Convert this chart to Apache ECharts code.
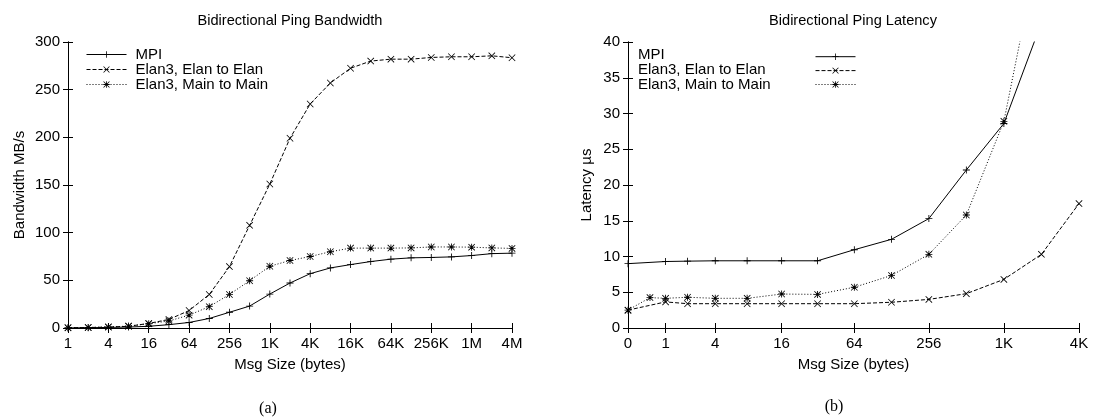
<!DOCTYPE html>
<html>
<head>
<meta charset="utf-8">
<script src="https://cdn.jsdelivr.net/npm/echarts@6/dist/echarts.min.js"></script>
<style>
  html, body { margin: 0; padding: 0; background: #fff; }
  #chart { width: 1093px; height: 419px; }
</style>
</head>
<body>
<div id="chart"></div>
<script>
// bandwidth chart (a): msg size in bytes vs MB/s
var bwSizes = [1, 2, 4, 8, 16, 32, 64, 128, 256, 512, 1024, 2048, 4096, 8192, 16384,
  32768, 65536, 131072, 262144, 524288, 1048576, 2097152, 4194304];
var bwMpi  = [0.1, 0.3, 0.6, 1.0, 1.8, 3.5, 5.8, 10.0, 16.5, 23.0, 35.6, 47.2, 57.0, 63.0, 66.5,
  69.7, 72.2, 73.6, 74.0, 74.6, 76.0, 78.0, 78.5];
var bwElan = [0.2, 0.5, 1.0, 1.8, 4.8, 9.0, 18.3, 35.2, 64.4, 107.7, 151, 199, 235, 257, 272.5,
  280, 282, 282, 283.8, 284.5, 284.5, 285.5, 283.5];
var bwMain = [0.2, 0.5, 1.0, 2.0, 4.5, 7.4, 13.5, 22.4, 35.2, 49.6, 64.8, 70.8, 75.0, 80.0, 83.8,
  83.8, 83.8, 84.0, 85.0, 85.0, 84.8, 84.0, 83.5];
var bwTickSizes  = [1, 4, 16, 64, 256, 1024, 4096, 16384, 65536, 262144, 1048576, 4194304];
var bwTickLabels = ['1', '4', '16', '64', '256', '1K', '4K', '16K', '64K', '256K', '1M', '4M'];

// latency chart (b): msg size in bytes vs microseconds
var latSizes = [0, 1, 2, 4, 8, 16, 32, 64, 128, 256, 512, 1024, 2048, 4096];
var latMpi   = [9.0, 9.3, 9.35, 9.4, 9.4, 9.4, 9.4, 10.95, 12.4, 15.3, 22.1, 28.6, 42.7];
var latElan  = [2.5, 3.65, 3.4, 3.4, 3.4, 3.4, 3.4, 3.4, 3.6, 4.0, 4.8, 6.8, 10.3, 17.4];
var latMainSizes = [0, 0.5, 1, 2, 4, 8, 16, 32, 64, 128, 256, 512, 1024, 2048];
var latMain  = [2.5, 4.25, 4.15, 4.3, 4.15, 4.15, 4.75, 4.7, 5.7, 7.35, 10.3, 15.8, 28.9, 55];
var latTickSizes  = [0, 1, 4, 16, 64, 256, 1024, 4096];
var latTickLabels = ['0', '1', '4', '16', '64', '256', '1K', '4K'];

var names = ['MPI', 'Elan3, Elan to Elan', 'Elan3, Main to Main'];

var FONT = 'Liberation Sans';
// gnuplot style point types
var SYM_PLUS  = 'path://M0,4.4H10V5.6H0Z M4.4,0H5.6V10H4.4Z';
var SYM_CROSS = 'path://M0.8,0L5,4.2L9.2,0L10,0.8L5.8,5L10,9.2L9.2,10L5,5.8L0.8,10L0,9.2L4.2,5L0,0.8Z';
var SYM_STAR  = 'path://M0.8,0L5,4.2L9.2,0L10,0.8L5.8,5L10,9.2L9.2,10L5,5.8L0.8,10L0,9.2L4.2,5L0,0.8Z M0,4.4H10V5.6H0Z M4.4,0H5.6V10H4.4Z';

var bwX  = function (s) { return Math.log2(s); };
var latX = function (s) { return Math.log2(s + 1); };

function tickFormatter(sizes, labels, toX) {
  return function (v) {
    for (var i = 0; i < sizes.length; i++) {
      if (Math.abs(toX(sizes[i]) - v) < 1e-6) return labels[i];
    }
    return '';
  };
}

function xAxes(grid, sizes, labels, toX, name) {
  var ticks = sizes.map(toX);
  var max = toX(sizes[sizes.length - 1]);
  var base = {
    type: 'value', gridIndex: grid, min: 0, max: max,
    axisLine: { lineStyle: { color: '#000', width: 1 } },
    axisTick: { inside: true, length: 5, customValues: ticks, lineStyle: { color: '#000' } },
    splitLine: { show: false }
  };
  var bottom = Object.assign({}, base, {
    position: 'bottom',
    name: name, nameLocation: 'middle', nameGap: 29,
    nameTextStyle: { fontFamily: FONT, fontSize: 15, color: '#000' },
    axisLabel: { customValues: ticks, margin: 8, fontFamily: FONT, fontSize: 15, color: '#000',
      formatter: tickFormatter(sizes, labels, toX) }
  });
  var top = Object.assign({}, base, { position: 'top', axisLabel: { show: false } });
  return [bottom, top];
}

function yAxes(grid, max, interval, name, gap) {
  var base = {
    type: 'value', gridIndex: grid, min: 0, max: max, interval: interval,
    axisLine: { show: true, lineStyle: { color: '#000', width: 1 } },
    axisTick: { show: true, inside: true, length: 5, lineStyle: { color: '#000' } },
    splitLine: { show: false }
  };
  var left = Object.assign({}, base, {
    position: 'left',
    name: name, nameLocation: 'middle', nameGap: gap,
    nameTextStyle: { fontFamily: FONT, fontSize: 15, color: '#000' },
    axisLabel: { margin: 8, fontFamily: FONT, fontSize: 15, color: '#000' }
  });
  var right = Object.assign({}, base, { position: 'right', axisLabel: { show: false } });
  return [left, right];
}

function line(name, sizes, values, toX, axis, dash, symbol) {
  return {
    type: 'line', name: name, xAxisIndex: axis, yAxisIndex: axis,
    data: values.map(function (v, i) { return [toX(sizes[i]), v]; }),
    symbol: symbol, symbolSize: 7, showAllSymbol: true, clip: true,
    lineStyle: { color: '#000', width: 1, type: dash },
    itemStyle: { color: '#000' },
    silent: true
  };
}

var DASH = [4, 2];
var DOT = [1, 2];
var legendText = { fontFamily: FONT, fontSize: 15, color: '#000', lineHeight: 14 };
var legendLine = { width: 1 };

var option = {
  animation: false,
  backgroundColor: '#fff',
  title: [
    { text: 'Bidirectional Ping Bandwidth', left: 290, top: 13, textAlign: 'center', padding: 0,
      textStyle: { fontFamily: FONT, fontSize: 14.6, fontWeight: 'normal', color: '#000' } },
    { text: 'Bidirectional Ping Latency', left: 853, top: 13, textAlign: 'center', padding: 0,
      textStyle: { fontFamily: FONT, fontSize: 14.6, fontWeight: 'normal', color: '#000' } },
    { text: '(a)', left: 268, top: 401, textAlign: 'center', padding: 0,
      textStyle: { fontFamily: 'Liberation Serif', fontSize: 16, fontWeight: 'normal', color: '#000' } },
    { text: '(b)', left: 834, top: 399, textAlign: 'center', padding: 0,
      textStyle: { fontFamily: 'Liberation Serif', fontSize: 16, fontWeight: 'normal', color: '#000' } }
  ],
  legend: [
    { data: names, orient: 'vertical', left: 86, top: 47, itemWidth: 40, itemHeight: 8, itemGap: 0,
      selectedMode: false, padding: 0, lineStyle: legendLine,
      textStyle: Object.assign({ padding: [0, 0, 0, 4] }, legendText) },
    // right chart key: text on the left, samples in a column on the right
    { data: names, orient: 'vertical', left: 633, top: 47, icon: 'none', itemWidth: 0, itemHeight: 8, itemGap: 0,
      selectedMode: false, padding: 0, textStyle: legendText },
    { data: names, orient: 'vertical', left: 815, top: 53.5, itemWidth: 40, itemHeight: 8, itemGap: 7.5,
      selectedMode: false, padding: 0, lineStyle: legendLine, formatter: function () { return ''; },
      textStyle: { fontSize: 1, lineHeight: 1 } }
  ],
  grid: [
    { left: 68, right: 581, top: 42, bottom: 91 },
    { left: 628, right: 14, top: 42, bottom: 91 }
  ],
  xAxis: xAxes(0, bwTickSizes, bwTickLabels, bwX, 'Msg Size (bytes)')
    .concat(xAxes(1, latTickSizes, latTickLabels, latX, 'Msg Size (bytes)')),
  yAxis: yAxes(0, 300, 50, 'Bandwidth MB/s', 41)
    .concat(yAxes(1, 40, 5, 'Latency \u00b5s', 34)),
  series: [
    line(names[0], bwSizes, bwMpi, bwX, 0, 'solid', SYM_PLUS),
    line(names[1], bwSizes, bwElan, bwX, 0, DASH, SYM_CROSS),
    line(names[2], bwSizes, bwMain, bwX, 0, DOT, SYM_STAR),
    line(names[0], latSizes, latMpi, latX, 2, 'solid', SYM_PLUS),
    line(names[1], latSizes, latElan, latX, 2, DASH, SYM_CROSS),
    line(names[2], latMainSizes, latMain, latX, 2, DOT, SYM_STAR)
  ]
};

var chart = echarts.init(document.getElementById('chart'), null, { renderer: 'canvas' });
chart.setOption(option);
</script>
</body>
</html>
